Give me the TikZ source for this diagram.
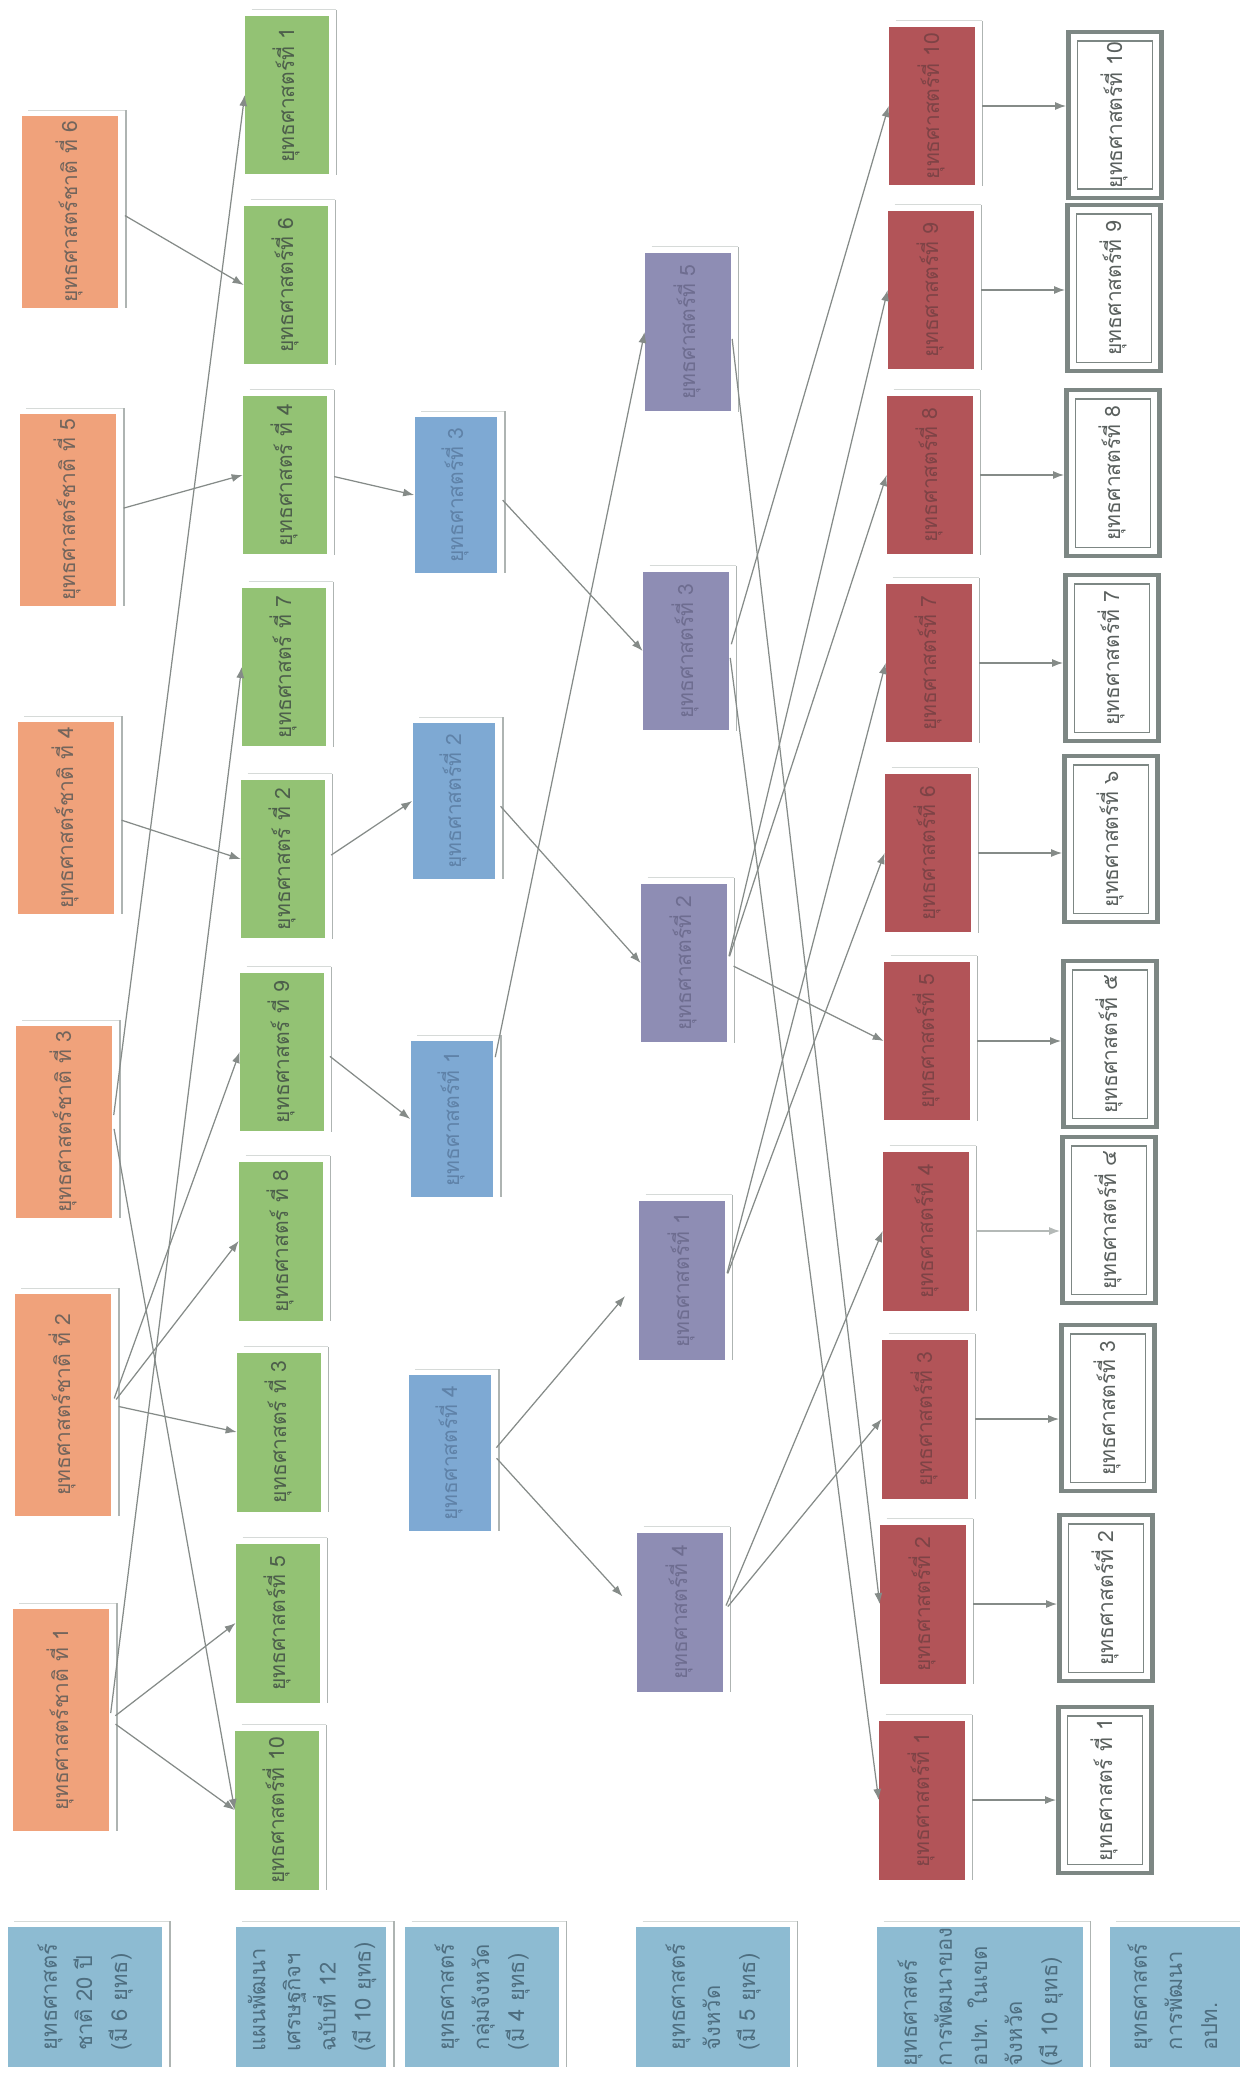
\documentclass[tikz,border=0pt]{standalone}
\usepackage{fontspec}
\setmainfont[Script=Thai]{Loma}
\usepackage{tikz}
\usetikzlibrary{arrows.meta}
\definecolor{natFill}{HTML}{F0A27B}
\definecolor{natInk}{HTML}{73655C}
\definecolor{planFill}{HTML}{93C274}
\definecolor{planInk}{HTML}{4D5F4B}
\definecolor{grpFill}{HTML}{7EA9D3}
\definecolor{grpInk}{HTML}{5F82A8}
\definecolor{provFill}{HTML}{8E8DB4}
\definecolor{provInk}{HTML}{6E6D90}
\definecolor{locFill}{HTML}{B25458}
\definecolor{locInk}{HTML}{7E4346}
\definecolor{ownFrame}{HTML}{7D8784}
\definecolor{ownInk}{HTML}{5A605E}
\definecolor{tagFill}{HTML}{8DBBD2}
\definecolor{tagInk}{HTML}{4E6E80}
\definecolor{rimGray}{HTML}{AEB4B2}
\definecolor{rimLight}{HTML}{D6DAD8}
\definecolor{arrGray}{HTML}{858B88}
\definecolor{arrLight}{HTML}{B4B9B7}
\newcommand{\vtxt}[1]{\rotatebox{90}{\begin{tabular}{@{}c@{}}#1\end{tabular}}}
\newcommand{\vlbl}[1]{\rotatebox{90}{\begin{tabular}{@{}l@{}}#1\end{tabular}}}

\begin{document}
\begin{tikzpicture}[
  x=0.02cm, y=-0.02cm,
  font=\fontsize{12}{14}\selectfont,
  rimline/.style={draw=rimGray,line width=0.8pt},
  toprim/.style={draw=rimLight,line width=0.6pt},
  box/.style={inner sep=0pt,
    append after command={
      ([xshift=4pt,yshift=3pt]\tikzlastnode.north west) edge[toprim] ([xshift=4pt,yshift=3pt]\tikzlastnode.north east)
      ([xshift=4pt,yshift=3pt]\tikzlastnode.north east) edge[rimline] ([xshift=4pt]\tikzlastnode.south east)}},
  nat/.style={box,fill=natFill,text=natInk,minimum width=1.94cm,minimum height=3.84cm},
  plan/.style={box,fill=planFill,text=planInk,minimum width=1.68cm,minimum height=3.18cm},
  grp/.style={box,fill=grpFill,text=grpInk,minimum width=1.66cm,minimum height=3.12cm},
  prov/.style={box,fill=provFill,text=provInk,minimum width=1.72cm,minimum height=3.18cm},
  loc/.style={box,fill=locFill,text=locInk,minimum width=1.72cm,minimum height=3.18cm},
  own/.style={draw=ownFrame,line width=2.8pt,fill=white,text=ownInk,inner sep=0pt,
    minimum width=1.86cm,minimum height=3.32cm,
    path picture={\draw[ownFrame,line width=0.8pt]
      ([shift={(5pt,5pt)}]path picture bounding box.south west) rectangle
      ([shift={(-5pt,-5pt)}]path picture bounding box.north east);}},
  tag/.style={box,fill=tagFill,text=tagInk,minimum height=2.8cm,
    font=\fontsize{12.5}{20}\selectfont},
  arr/.style={draw=arrGray,line width=0.7pt,-{Latex[length=2.2mm,width=1.6mm]},shorten <=4pt}
]
\useasboundingbox[fill=white] (0,0) rectangle (1240,2079);

% National strategy (20 years)
\node[nat] (o6) at (70,212)  {\vtxt{ยุทธศาสตร์ชาติ ที่ 6}};
\node[nat] (o5) at (68,510)  {\vtxt{ยุทธศาสตร์ชาติ ที่ 5}};
\node[nat] (o4) at (66,818)  {\vtxt{ยุทธศาสตร์ชาติ ที่ 4}};
\node[nat] (o3) at (64,1122) {\vtxt{ยุทธศาสตร์ชาติ ที่ 3}};
\node[nat,minimum height=4.44cm] (o2) at (63,1405) {\vtxt{ยุทธศาสตร์ชาติ ที่ 2}};
\node[nat,minimum height=4.44cm] (o1) at (61,1720) {\vtxt{ยุทธศาสตร์ชาติ ที่ 1}};

% Development plan no. 12
\node[plan] (g1)  at (287,95)   {\vtxt{ยุทธศาสตร์ที่ 1}};
\node[plan] (g6)  at (286,285)  {\vtxt{ยุทธศาสตร์ที่ 6}};
\node[plan] (g4)  at (285,475)  {\vtxt{ยุทธศาสตร์ ที่ 4}};
\node[plan] (g7)  at (284,667)  {\vtxt{ยุทธศาสตร์ ที่ 7}};
\node[plan] (g2)  at (283,859)  {\vtxt{ยุทธศาสตร์ ที่ 2}};
\node[plan] (g9)  at (282,1052) {\vtxt{ยุทธศาสตร์ ที่ 9}};
\node[plan] (g8)  at (281,1241) {\vtxt{ยุทธศาสตร์ ที่ 8}};
\node[plan] (g3)  at (279,1432) {\vtxt{ยุทธศาสตร์ ที่ 3}};
\node[plan] (g5)  at (278,1623) {\vtxt{ยุทธศาสตร์ที่ 5}};
\node[plan] (g10) at (277,1810) {\vtxt{ยุทธศาสตร์ที่ 10}};

% Province group
\node[grp] (b3) at (456,495)  {\vtxt{ยุทธศาสตร์ที่ 3}};
\node[grp] (b2) at (454,801)  {\vtxt{ยุทธศาสตร์ที่ 2}};
\node[grp] (b1) at (452,1119) {\vtxt{ยุทธศาสตร์ที่ 1}};
\node[grp] (b4) at (450,1453) {\vtxt{ยุทธศาสตร์ที่ 4}};

% Province
\node[prov] (p5) at (688,332)  {\vtxt{ยุทธศาสตร์ที่ 5}};
\node[prov] (p3) at (686,651)  {\vtxt{ยุทธศาสตร์ที่ 3}};
\node[prov] (p2) at (684,963)  {\vtxt{ยุทธศาสตร์ที่ 2}};
\node[prov] (p1) at (682,1280) {\vtxt{ยุทธศาสตร์ที่ 1}};
\node[prov] (p4) at (680,1612) {\vtxt{ยุทธศาสตร์ที่ 4}};

% Local bodies in the province
\node[loc] (r10) at (932,106)  {\vtxt{ยุทธศาสตร์ที่ 10}};
\node[loc] (r9)  at (931,290)  {\vtxt{ยุทธศาสตร์ที่ 9}};
\node[loc] (r8)  at (930,475)  {\vtxt{ยุทธศาสตร์ที่ 8}};
\node[loc] (r7)  at (929,663)  {\vtxt{ยุทธศาสตร์ที่ 7}};
\node[loc] (r6)  at (928,853)  {\vtxt{ยุทธศาสตร์ที่ 6}};
\node[loc] (r5)  at (927,1041) {\vtxt{ยุทธศาสตร์ที่ 5}};
\node[loc] (r4)  at (926,1231) {\vtxt{ยุทธศาสตร์ที่ 4}};
\node[loc] (r3)  at (925,1419) {\vtxt{ยุทธศาสตร์ที่ 3}};
\node[loc] (r2)  at (923,1604) {\vtxt{ยุทธศาสตร์ที่ 2}};
\node[loc] (r1)  at (922,1800) {\vtxt{ยุทธศาสตร์ที่ 1}};

% Local body's own plan
\node[own] (w10) at (1115,115)  {\vtxt{ยุทธศาสตร์ที่ 10}};
\node[own] (w9)  at (1114,288)  {\vtxt{ยุทธศาสตร์ที่ 9}};
\node[own] (w8)  at (1113,473)  {\vtxt{ยุทธศาสตร์ที่ 8}};
\node[own] (w7)  at (1112,658)  {\vtxt{ยุทธศาสตร์ที่ 7}};
\node[own] (w6)  at (1111,839)  {\vtxt{ยุทธศาสตร์ที่ ๖}};
\node[own] (w5)  at (1110,1044) {\vtxt{ยุทธศาสตร์ที่ ๕}};
\node[own] (w4)  at (1109,1220) {\vtxt{ยุทธศาสตร์ที่ ๔}};
\node[own] (w3)  at (1108,1408) {\vtxt{ยุทธศาสตร์ที่ 3}};
\node[own] (w2)  at (1106,1598) {\vtxt{ยุทธศาสตร์ที่ 2}};
\node[own] (w1)  at (1105,1790) {\vtxt{ยุทธศาสตร์ ที่ 1}};

% Row labels (bottom)
\node[tag,minimum width=3.1cm]  (t1) at (85,1997)   {\vlbl{ยุทธศาสตร์\\ชาติ 20 ปี\\(มี 6 ยุทธ)}};
\node[tag,minimum width=3.02cm] (t2) at (311,1997)  {\vlbl{แผนพัฒนา\\เศรษฐกิจฯ\\ฉบับที่ 12\\(มี 10 ยุทธ)}};
\node[tag,minimum width=3.08cm] (t3) at (482,1997)  {\vlbl{ยุทธศาสตร์\\กลุ่มจังหวัด\\(มี 4 ยุทธ)}};
\node[tag,minimum width=3.08cm] (t4) at (713,1997)  {\vlbl{ยุทธศาสตร์\\จังหวัด\\(มี 5 ยุทธ)}};
\node[tag,minimum width=4.12cm] (t5) at (980,1997)  {\vlbl{ยุทธศาสตร์\\การพัฒนาของ\\อปท. ในเขต\\จังหวัด\\(มี 10 ยุทธ)}};
\node[tag,minimum width=2.62cm] (t6) at (1175,1997) {\vlbl{ยุทธศาสตร์\\การพัฒนา\\อปท.}};

% National -> plan
\draw[arr] (o6.east) -- (g6.west);
\draw[arr] (o5.east) -- (g4.west);
\draw[arr] (o4.east) -- (g2.west);
\draw[arr] (o3.east) -- (g1.west);
\draw[arr] (o3.east) -- (g10.west);
\draw[arr] (o2.east) -- (g9.west);
\draw[arr] (o2.east) -- (g8.west);
\draw[arr] (o2.east) -- (g3.west);
\draw[arr] (o1.east) -- (g7.west);
\draw[arr] (o1.east) -- (g5.west);
\draw[arr] (o1.east) -- (g10.west);

% Plan -> province group
\draw[arr] (g4.east) -- (b3.west);
\draw[arr] (g2.east) -- (b2.west);
\draw[arr] (g9.east) -- (b1.west);

% Province group -> province
\draw[arr] (b3.east) -- (p3.west);
\draw[arr] (b2.east) -- (p2.west);
\draw[arr] ([yshift=1.1cm]b1.east) -- (p5.west);
\draw[arr,shorten >=12pt] (b4.east) -- (p1.west);
\draw[arr,shorten >=12pt] (b4.east) -- (p4.west);

% Province -> local bodies
\draw[arr] (p5.east) -- (r2.west);
\draw[arr] (p3.east) -- (r10.west);
\draw[arr] (p3.east) -- (r1.west);
\draw[arr] (p2.east) -- (r9.west);
\draw[arr] (p2.east) -- (r8.west);
\draw[arr] (p2.east) -- (r5.west);
\draw[arr] (p1.east) -- (r7.west);
\draw[arr] (p1.east) -- (r6.west);
\draw[arr] (p4.east) -- (r4.west);
\draw[arr] (p4.east) -- (r3.west);

% Local bodies -> own plan
\draw[arr] (r10.east) -- (r10.east -| w10.west);
\draw[arr] (r9.east)  -- (r9.east -| w9.west);
\draw[arr] (r8.east)  -- (r8.east -| w8.west);
\draw[arr] (r7.east)  -- (r7.east -| w7.west);
\draw[arr] (r6.east)  -- (r6.east -| w6.west);
\draw[arr] (r5.east)  -- (r5.east -| w5.west);
\draw[arr,draw=arrLight] (r4.east) -- (r4.east -| w4.west);
\draw[arr] (r3.east)  -- (r3.east -| w3.west);
\draw[arr] (r2.east)  -- (r2.east -| w2.west);
\draw[arr] (r1.east)  -- (r1.east -| w1.west);
\end{tikzpicture}
\end{document}
